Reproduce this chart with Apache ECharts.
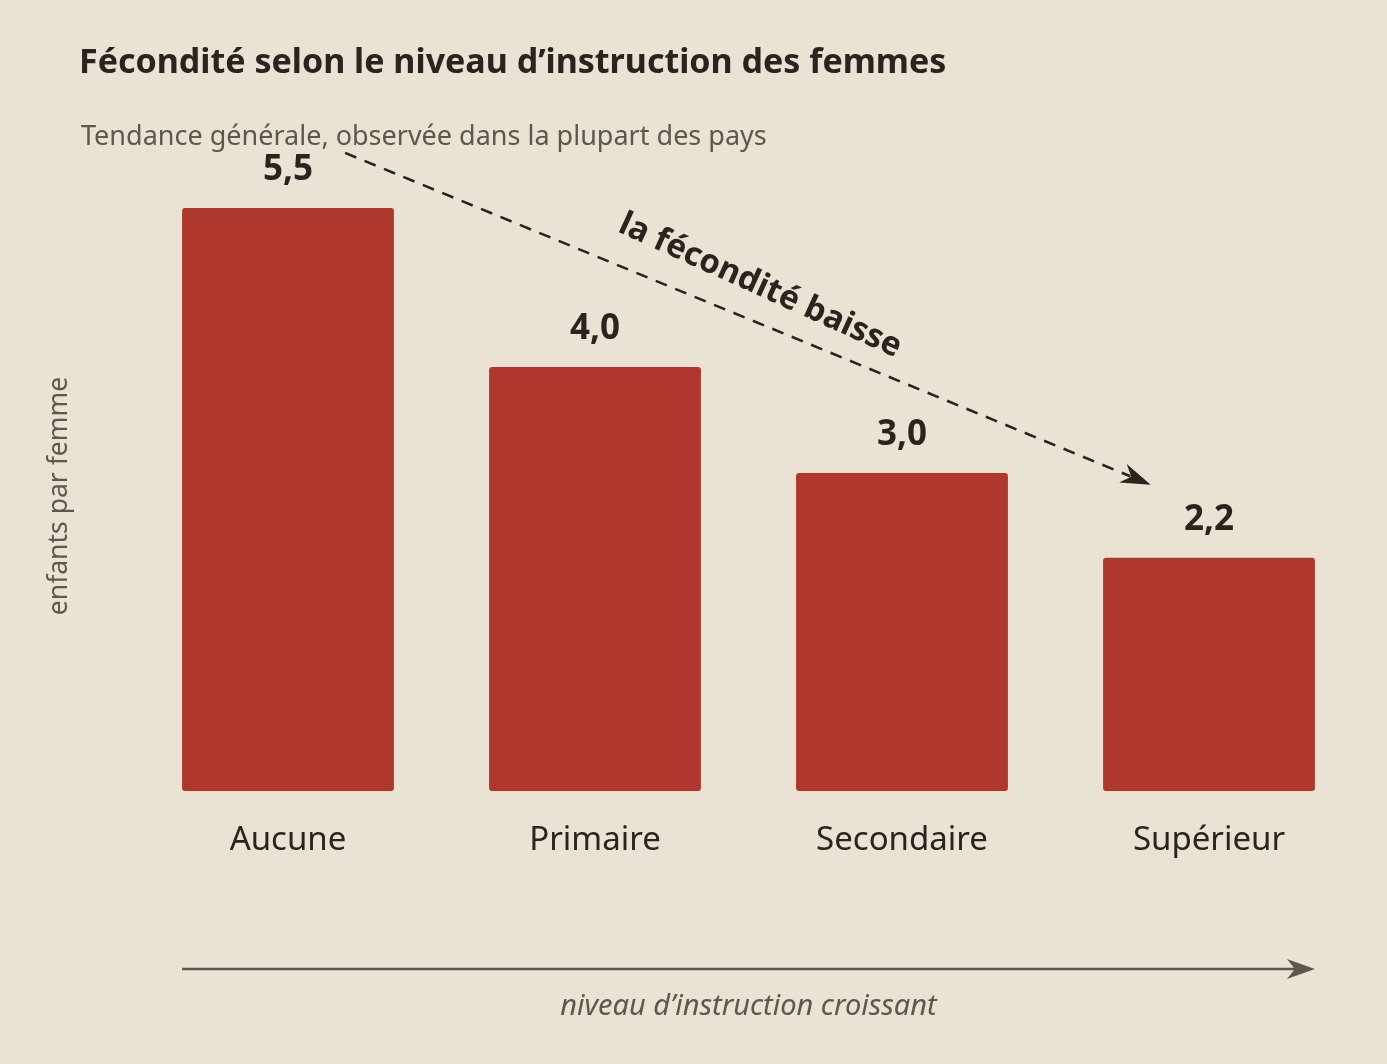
<!DOCTYPE html>
<html><head><meta charset="utf-8">
<script src="https://cdn.jsdelivr.net/npm/echarts@6/dist/echarts.min.js"></script>
<style>html,body{margin:0;padding:0;background:#EAE2D2;}#c{width:1387px;height:1064px;}</style>
</head><body><div id="c"></div>
<script>
const categories = ['Aucune', 'Primaire', 'Secondaire', 'Supérieur'];
const values = [5.5, 4.0, 3.0, 2.2];
const valueLabels = ['5,5', '4,0', '3,0', '2,2'];
const trendStart = [0.186, 6.02];
const trendEnd = [2.81, 2.89];

const FONT = 'Noto Sans';
const DARK = '#2a2420';
const GREY = '#5e574b';
const chart = echarts.init(document.getElementById('c'));
chart.setOption({
  backgroundColor: '#EAE2D2',
  animation: false,
  title: [{
    text: 'Fécondité selon le niveau d’instruction des femmes',
    left: 74, top: 41,
    textStyle: {fontFamily: FONT, fontWeight: 'bold', fontSize: 34, color: DARK}
  }, {
    text: 'Tendance générale, observée dans la plupart des pays',
    left: 76, top: 119,
    textStyle: {fontFamily: FONT, fontWeight: 'normal', fontSize: 27, color: GREY}
  }],
  grid: {left: 134.5, right: 24.5, top: 155, bottom: 273, containLabel: false},
  xAxis: [{
    type: 'category', data: categories,
    axisLine: {show: false}, axisTick: {show: false},
    axisLabel: {fontFamily: FONT, fontSize: 33, color: DARK, margin: 33}
  }, {
    type: 'value', min: -0.5, max: 3.5, show: false
  }],
  yAxis: {
    type: 'value', min: 0, max: 6,
    name: 'enfants par femme', nameLocation: 'middle', nameGap: 62, nameRotate: 90,
    nameTextStyle: {fontFamily: FONT, fontSize: 26.5, color: GREY, padding: [0, 46, 0, 0]},
    axisLine: {show: false}, axisTick: {show: false}, axisLabel: {show: false},
    splitLine: {show: false}
  },
  series: [{
    type: 'bar', data: values, barCategoryGap: '31%',
    itemStyle: {color: '#B0372E', borderRadius: 3},
    label: {show: true, position: 'top', distance: 20,
      formatter: p => valueLabels[p.dataIndex],
      fontFamily: FONT, fontWeight: 'bold', fontSize: 35, color: DARK}
  }]
});

function px(idx, v) { return chart.convertToPixel({xAxisIndex: 1, yAxisIndex: 0}, [idx, v]); }
const a = px(trendStart[0], trendStart[1]);
const b = px(trendEnd[0], trendEnd[1]);
const ang = Math.atan2(b[1] - a[1], b[0] - a[0]);
const ux = Math.cos(ang), uy = Math.sin(ang);
const nx = -uy, ny = ux;
const head = [b,
  [b[0] - 30 * ux + 10 * nx, b[1] - 30 * uy + 10 * ny],
  [b[0] - 21 * ux, b[1] - 21 * uy],
  [b[0] - 30 * ux - 10 * nx, b[1] - 30 * uy - 10 * ny]];
const mid = px((trendStart[0] + trendEnd[0]) / 2 + 0.04, (trendStart[1] + trendEnd[1]) / 2 + 0.31);
const leftEdge = px(-0.5 + 0.155, 0)[0];
const rightEdge = px(3.5 - 0.155, 0)[0];
const arrowY = 969;
chart.setOption({
  graphic: [{
    type: 'line', shape: {x1: a[0], y1: a[1], x2: b[0] - 22 * ux, y2: b[1] - 22 * uy},
    style: {stroke: DARK, lineWidth: 2.6, lineDash: [12, 9]}
  }, {
    type: 'polygon', shape: {points: head}, style: {fill: DARK}
  }, {
    type: 'text', x: mid[0], y: mid[1], rotation: -(ang + 0.035),
    style: {text: 'la fécondité baisse', fontFamily: FONT, fontWeight: 'bold', fontSize: 33,
      fill: DARK, align: 'center', verticalAlign: 'middle'}
  }, {
    type: 'line', shape: {x1: leftEdge, y1: arrowY, x2: rightEdge - 6, y2: arrowY},
    style: {stroke: GREY, lineWidth: 2.5}
  }, {
    type: 'polygon',
    shape: {points: [[rightEdge, arrowY], [rightEdge - 28, arrowY - 10], [rightEdge - 20, arrowY], [rightEdge - 28, arrowY + 10]]},
    style: {fill: GREY}
  }, {
    type: 'text', x: (leftEdge + rightEdge) / 2, y: 1007,
    style: {text: 'niveau d’instruction croissant', fontFamily: FONT, fontStyle: 'italic', fontSize: 29,
      fill: GREY, align: 'center', verticalAlign: 'middle'}
  }]
});
</script></body></html>
